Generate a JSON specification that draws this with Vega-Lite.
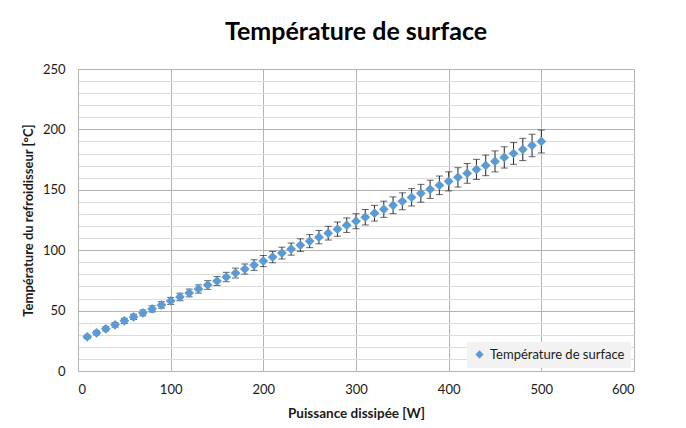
{
  "$schema": "https://vega.github.io/schema/vega-lite/v6.json",
  "width": 556,
  "height": 302,
  "autosize": {"type": "none"},
  "padding": {"left": 78, "top": 69, "right": 52, "bottom": 57},
  "background": "white",
  "title": {
    "text": "Température de surface",
    "font": "Lato",
    "fontSize": 25,
    "fontWeight": "bold",
    "color": "#000000",
    "anchor": "middle",
    "offset": 18
  },
  "data": {
    "values": [
      {"P": 10, "T": 28.3, "err": 1.4},
      {"P": 20, "T": 31.6, "err": 1.6},
      {"P": 30, "T": 34.9, "err": 1.7},
      {"P": 40, "T": 38.2, "err": 1.9},
      {"P": 50, "T": 41.5, "err": 2.1},
      {"P": 60, "T": 44.8, "err": 2.2},
      {"P": 70, "T": 48.1, "err": 2.4},
      {"P": 80, "T": 51.4, "err": 2.6},
      {"P": 90, "T": 54.7, "err": 2.7},
      {"P": 100, "T": 58.0, "err": 2.9},
      {"P": 110, "T": 61.3, "err": 3.1},
      {"P": 120, "T": 64.6, "err": 3.2},
      {"P": 130, "T": 67.9, "err": 3.4},
      {"P": 140, "T": 71.2, "err": 3.6},
      {"P": 150, "T": 74.5, "err": 3.7},
      {"P": 160, "T": 77.8, "err": 3.9},
      {"P": 170, "T": 81.1, "err": 4.1},
      {"P": 180, "T": 84.4, "err": 4.2},
      {"P": 190, "T": 87.7, "err": 4.4},
      {"P": 200, "T": 91.0, "err": 4.6},
      {"P": 210, "T": 94.3, "err": 4.7},
      {"P": 220, "T": 97.6, "err": 4.9},
      {"P": 230, "T": 100.9, "err": 5.0},
      {"P": 240, "T": 104.2, "err": 5.2},
      {"P": 250, "T": 107.5, "err": 5.4},
      {"P": 260, "T": 110.8, "err": 5.5},
      {"P": 270, "T": 114.1, "err": 5.7},
      {"P": 280, "T": 117.4, "err": 5.9},
      {"P": 290, "T": 120.7, "err": 6.0},
      {"P": 300, "T": 124.0, "err": 6.2},
      {"P": 310, "T": 127.3, "err": 6.4},
      {"P": 320, "T": 130.6, "err": 6.5},
      {"P": 330, "T": 133.9, "err": 6.7},
      {"P": 340, "T": 137.2, "err": 6.9},
      {"P": 350, "T": 140.5, "err": 7.0},
      {"P": 360, "T": 143.8, "err": 7.2},
      {"P": 370, "T": 147.1, "err": 7.4},
      {"P": 380, "T": 150.4, "err": 7.5},
      {"P": 390, "T": 153.7, "err": 7.7},
      {"P": 400, "T": 157.0, "err": 7.9},
      {"P": 410, "T": 160.3, "err": 8.0},
      {"P": 420, "T": 163.6, "err": 8.2},
      {"P": 430, "T": 166.9, "err": 8.3},
      {"P": 440, "T": 170.2, "err": 8.5},
      {"P": 450, "T": 173.5, "err": 8.7},
      {"P": 460, "T": 176.8, "err": 8.8},
      {"P": 470, "T": 180.1, "err": 9.0},
      {"P": 480, "T": 183.4, "err": 9.2},
      {"P": 490, "T": 186.7, "err": 9.3},
      {"P": 500, "T": 190.0, "err": 9.5}
    ]
  },
  "encoding": {
    "x": {
      "field": "P",
      "type": "quantitative",
      "scale": {"domain": [0, 600], "nice": false, "zero": true},
      "axis": {
        "title": "Puissance dissipée [W]",
        "values": [0, 100, 200, 300, 400, 500, 600],
        "grid": true,
        "gridColor": "#b3b3b3",
        "gridWidth": 1,
        "ticks": false,
        "domainColor": "#b3b3b3",
        "labelPadding": 12,
        "labelFont": "Lato",
        "labelFontSize": 13,
        "labelColor": "#1a1a1a",
        "titleFont": "Lato",
        "titleFontSize": 13.5,
        "titleFontWeight": "bold",
        "titleColor": "#1a1a1a",
        "titlePadding": 10
      }
    },
    "y": {
      "field": "T",
      "type": "quantitative",
      "scale": {"domain": [0, 250], "nice": false},
      "axis": {
        "title": "Température du refroidisseur [°C]",
        "values": [0, 10, 20, 30, 40, 50, 60, 70, 80, 90, 100, 110, 120, 130, 140, 150, 160, 170, 180, 190, 200, 210, 220, 230, 240, 250],
        "labelExpr": "datum.value % 50 === 0 ? datum.label : ''",
        "grid": true,
        "gridColor": {"condition": {"test": "datum.value % 50 === 0", "value": "#b3b3b3"}, "value": "#dcdcdc"},
        "gridWidth": 1,
        "ticks": false,
        "domainColor": "#b3b3b3",
        "labelPadding": 13,
        "labelFont": "Lato",
        "labelFontSize": 13,
        "labelColor": "#1a1a1a",
        "titleFont": "Lato",
        "titleFontSize": 13,
        "titleFontWeight": "bold",
        "titleColor": "#1a1a1a",
        "titlePadding": 7
      }
    }
  },
  "layer": [
    {
      "mark": {"type": "errorbar", "ticks": {"size": 7, "color": "#262626"}, "rule": {"color": "#262626", "strokeWidth": 1}},
      "encoding": {
        "yError": {"field": "err"}
      }
    },
    {
      "mark": {"type": "point", "shape": "diamond", "filled": true, "size": 95, "opacity": 1},
      "encoding": {
        "color": {
          "datum": "Température de surface",
          "type": "nominal",
          "scale": {"range": ["#5b9bd5"]},
          "legend": {
            "title": null,
            "orient": "bottom-right",
            "offset": 3,
            "fillColor": "#f2f2f2",
            "padding": 6,
            "labelFont": "Lato",
            "labelFontSize": 13,
            "labelColor": "#1a1a1a",
            "symbolType": "diamond",
            "symbolSize": 70,
            "symbolOpacity": 1
          }
        }
      }
    }
  ],
  "config": {
    "view": {"stroke": null}
  }
}
